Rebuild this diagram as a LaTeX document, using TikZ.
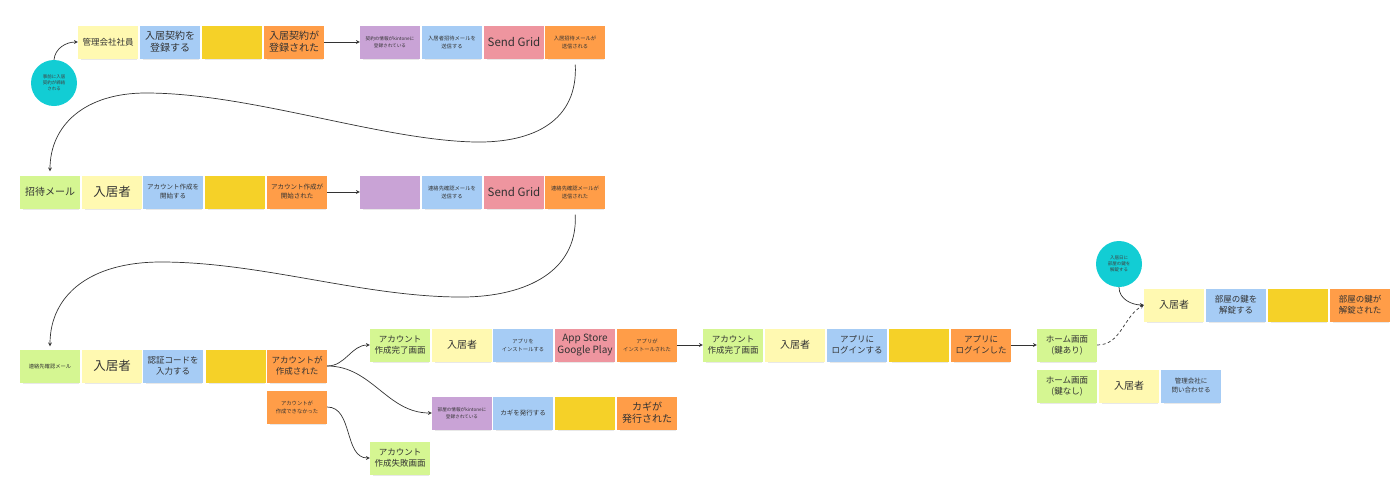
\documentclass[tikz,border=0pt]{standalone}
\usepackage{fontspec}
\setmainfont{Noto Sans CJK JP}
\usetikzlibrary{positioning,shapes,shadows,arrows}

\definecolor{stLemon}{HTML}{FFF9B1}
\definecolor{stSky}{HTML}{A6CCF5}
\definecolor{stGold}{HTML}{F5D128}
\definecolor{stOrange}{HTML}{FF9D48}
\definecolor{stLilac}{HTML}{C9A3D6}
\definecolor{stRose}{HTML}{EE959F}
\definecolor{stLime}{HTML}{D5F692}
\definecolor{stCyan}{HTML}{12CDD4}

\begin{document}
\begin{tikzpicture}[x=1pt, y=-1pt,
    sticky/.style={rectangle, minimum width=60pt, minimum height=33pt, inner sep=1pt, align=center, text=black!80,
        drop shadow={shadow xshift=1pt, shadow yshift=-3pt, shadow scale=0.94, opacity=0.18}},
    person/.style={sticky, fill=stLemon},
    command/.style={sticky, fill=stSky},
    system/.style={sticky, fill=stGold},
    event/.style={sticky, fill=stOrange},
    policy/.style={sticky, fill=stLilac},
    external/.style={sticky, fill=stRose},
    screen/.style={sticky, fill=stLime},
    trigger/.style={circle, fill=stCyan, minimum size=46pt, inner sep=0pt, align=center, text=black!75, font=\fontsize{4.5}{6}\selectfont},
    fA/.style={font=\fontsize{12.5}{14}\selectfont},
    fG/.style={font=\fontsize{11.5}{13}\selectfont},
    fB/.style={font=\fontsize{10}{12}\selectfont},
    fC/.style={font=\fontsize{8.5}{11}\selectfont},
    fD/.style={font=\fontsize{6.5}{9}\selectfont},
    fE/.style={font=\fontsize{5.3}{8}\selectfont},
    fF/.style={font=\fontsize{4.6}{7}\selectfont},
    arrow/.style={-stealth, line width=0.7pt, draw=black!80},
    hint/.style={-stealth, line width=0.7pt, draw=black!80, dash pattern=on 3pt off 2.5pt}
]
\useasboundingbox (0,0) rectangle (1400,488);

% Row 1: contract registration
\node[trigger] (pre) at (54,83) {事前に入居\\契約が締結\\される};
\node[person, fC] (staff) at (108,42) {管理会社社員};
\node[command, fB] (regist) at (170,42) {入居契約を\\登録する};
\node[system] (sysA) at (232,42) {};
\node[event, fB] (registed) at (294,42) {入居契約が\\登録された};
\node[policy, fF] (kintoneA) at (390,42) {契約の情報がkintoneに\\登録されている};
\node[command, fE] (sendInvite) at (452,42) {入居者招待メールを\\送信する};
\node[external, fG] (gridA) at (514,42) {Send Grid};
\node[event, fE] (invited) at (575,42) {入居招待メールが\\送信される};

% Row 2: account start
\node[screen, fB] (mailInvite) at (50,192) {招待メール};
\node[person, fA] (residentA) at (112,192) {入居者};
\node[command, fD] (startAcc) at (173,192) {アカウント作成を\\開始する};
\node[system] (sysB) at (235,192) {};
\node[event, fD] (startedAcc) at (297,192) {アカウント作成が\\開始された};
\node[policy] (polB) at (390,192) {};
\node[command, fE] (sendCheck) at (452,192) {連絡先確認メールを\\送信する};
\node[external, fG] (gridB) at (514,192) {Send Grid};
\node[event, fE] (checkSent) at (575,192) {連絡先確認メールが\\送信された};

% Row 3: account creation
\node[screen, fE] (mailCheck) at (50,366) {連絡先確認メール};
\node[person, fA] (residentB) at (112,366) {入居者};
\node[command, fC] (inputCode) at (173,366) {認証コードを\\入力する};
\node[system] (sysC) at (236,366) {};
\node[event, fC] (created) at (297,366) {アカウントが\\作成された};
\node[event, fE] (failed) at (297,407) {アカウントが\\作成できなかった};

% App install and login
\node[screen, fC] (doneA) at (400,345) {アカウント\\作成完了画面};
\node[person, fB] (residentC) at (462,345) {入居者};
\node[command, fE] (install) at (523,345) {アプリを\\インストールする};
\node[external, fB] (store) at (585,345) {App Store\\Google Play};
\node[event, fE] (installed) at (647,345) {アプリが\\インストールされた};
\node[screen, fC] (doneB) at (733,345) {アカウント\\作成完了画面};
\node[person, fB] (residentD) at (795,345) {入居者};
\node[command, fC] (login) at (857,345) {アプリに\\ログインする};
\node[system] (sysD) at (919,345) {};
\node[event, fC] (logged) at (981,345) {アプリに\\ログインした};

% Key issue
\node[policy, fF] (kintoneB) at (462,413) {部屋の情報がkintoneに\\登録されている};
\node[command, fD] (issue) at (523,413) {カギを発行する};
\node[system] (sysE) at (585,413) {};
\node[event, fB] (issued) at (647,413) {カギが\\発行された};
\node[screen, fC] (failScreen) at (400,458) {アカウント\\作成失敗画面};

% Home screens
\node[screen, fC] (homeKey) at (1067,345) {ホーム画面\\(鍵あり)};
\node[screen, fC] (homeNone) at (1067,386) {ホーム画面\\(鍵なし)};
\node[person, fB] (residentE) at (1129,386) {入居者};
\node[command, fD] (ask) at (1191,386) {管理会社に\\問い合わせる};

% Unlock
\node[trigger] (moveIn) at (1119,264) {入居日に\\部屋の鍵を\\解錠する};
\node[person, fB] (residentF) at (1174,305) {入居者};
\node[command, fC] (unlock) at (1236,305) {部屋の鍵を\\解錠する};
\node[system] (sysF) at (1298,305) {};
\node[event, fC] (unlocked) at (1360,305) {部屋の鍵が\\解錠された};

% Connections
\draw[arrow] (pre.north) to[out=85, in=180] (staff.west);
\draw[arrow] (registed) -- (kintoneA);
\draw[arrow, shorten <=6pt, shorten >=4pt] (invited.south) .. controls (578,120) and (535,143) .. (475,142)
    .. controls (380,140) and (250,93) .. (146,93) .. controls (85,93) and (50,125) .. (mailInvite.north);
\draw[arrow] (startedAcc) -- (polB);
\draw[arrow, shorten <=6pt, shorten >=3pt] (checkSent.south) .. controls (578,275) and (520,298) .. (457,297)
    .. controls (360,296) and (260,262) .. (161,262) .. controls (90,262) and (50,295) .. (mailCheck.north);
\draw[arrow] (created.east) to[out=0, in=180] (doneA.west);
\draw[arrow] (created.east) to[out=0, in=180] (kintoneB.west);
\draw[arrow] (failed.east) to[out=0, in=180] (failScreen.west);
\draw[arrow] (installed) -- (doneB);
\draw[arrow] (logged) -- (homeKey);
\draw[arrow] (moveIn.south) to[out=-90, in=180] (residentF.west);
\draw[hint] (homeKey.east) to[out=0, in=210] (residentF.west);

\end{tikzpicture}
\end{document}
